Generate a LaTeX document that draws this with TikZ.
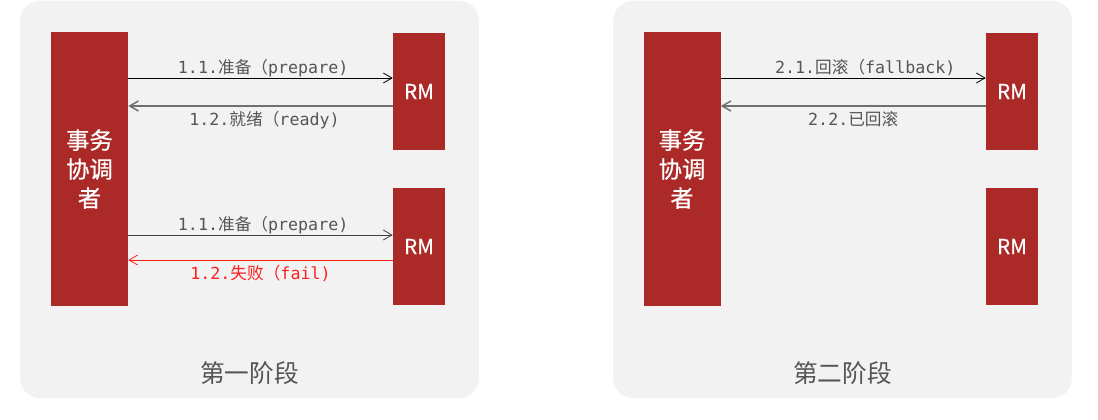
\documentclass[tikz,border=0pt]{standalone}
\usepackage{fontspec}
\setmainfont{Noto Sans CJK SC}
\newfontfamily\codefont{DejaVu Sans Mono}
\newfontfamily\medfont{Noto Sans CJK SC}[FakeBold=0.6]
\usetikzlibrary{arrows.meta}
\definecolor{boxred}{RGB}{171,42,39}
\definecolor{panelgray}{RGB}{242,242,242}
\definecolor{lblgray}{RGB}{85,85,85}
\definecolor{backgray}{RGB}{112,112,112}
\definecolor{failred}{RGB}{255,30,30}
\newcommand{\cd}[1]{{\codefont #1}}
\tikzset{
    panel/.style={fill=panelgray, rounded corners=15pt, minimum width=344pt, minimum height=298pt, inner sep=0pt},
    coordbox/.style={fill=boxred, text=white, minimum width=57.75pt, minimum height=205.5pt, inner sep=0pt, align=center, font=\medfont\fontsize{17.5}{21.75}\selectfont},
    rmbox/.style={fill=boxred, text=white, minimum width=39pt, minimum height=87.75pt, inner sep=0pt, font=\medfont\fontsize{15.5}{18}\selectfont},
    msg/.style={-{Straight Barb[length=6.5pt,width=7.5pt]}, line width=0.6pt},
    msglbl/.style={font=\fontsize{12.5}{15}\selectfont, text=lblgray, inner sep=1.5pt},
    stagelbl/.style={font=\fontsize{18.5}{22}\selectfont, text=lblgray},
}
\begin{document}
\begin{tikzpicture}[x=0.75pt,y=0.75pt,yscale=-1,xscale=1]
        \useasboundingbox (0,0) rectangle (1098,419);

        % first phase
        \node[panel] (panel1) at (249.5,199.5) {};
        \node[coordbox] (coord1) at (89.5,169) {事务\\协调\\者};
        \node[rmbox] (rm11) at (419,91.5) {RM};
        \node[rmbox] (rm12) at (419,246.5) {RM};
        \node[stagelbl] (stage1) at (249.5,373) {第一阶段};

        \coordinate (a11) at (393,78);
        \coordinate (a12) at (393,106);
        \coordinate (a13) at (393,235);
        \coordinate (a14) at (393,260);
        \draw[msg, black] (coord1.east |- a11) -- (rm11.west |- a11) node[midway, above, msglbl, xshift=2pt, yshift=-1pt] {\cd{1.1.}准备（\cd{prepare)}};
        \draw[msg, backgray, line width=1.1pt] (rm11.west |- a12) -- (coord1.east |- a12) node[midway, below, msglbl, xshift=3pt, yshift=-2pt] {\cd{1.2.}就绪（\cd{ready)}};
        \draw[msg, black!75] (coord1.east |- a13) -- (rm12.west |- a13) node[midway, above, msglbl, xshift=2pt, yshift=-1pt] {\cd{1.1.}准备（\cd{prepare)}};
        \draw[msg, failred] (rm12.west |- a14) -- (coord1.east |- a14) node[midway, below, msglbl, text=failred, yshift=-2pt] {\cd{1.2.}失败（\cd{fail)}};

        % second phase
        \node[panel] (panel2) at (842.5,199.5) {};
        \node[coordbox] (coord2) at (682,169) {事务\\协调\\者};
        \node[rmbox] (rm21) at (1012,91.5) {RM};
        \node[rmbox] (rm22) at (1012,246.5) {RM};
        \node[stagelbl] (stage2) at (842.5,373) {第二阶段};

        \coordinate (a21) at (986,78);
        \coordinate (a22) at (986,106);
        \draw[msg, black] (coord2.east |- a21) -- (rm21.west |- a21) node[midway, above, msglbl, xshift=9pt] {\cd{2.1.}回滚（\cd{fallback)}};
        \draw[msg, backgray, line width=1.1pt] (rm21.west |- a22) -- (coord2.east |- a22) node[midway, below, msglbl, yshift=-2pt] {\cd{2.2.}已回滚};

\end{tikzpicture}
\end{document}
